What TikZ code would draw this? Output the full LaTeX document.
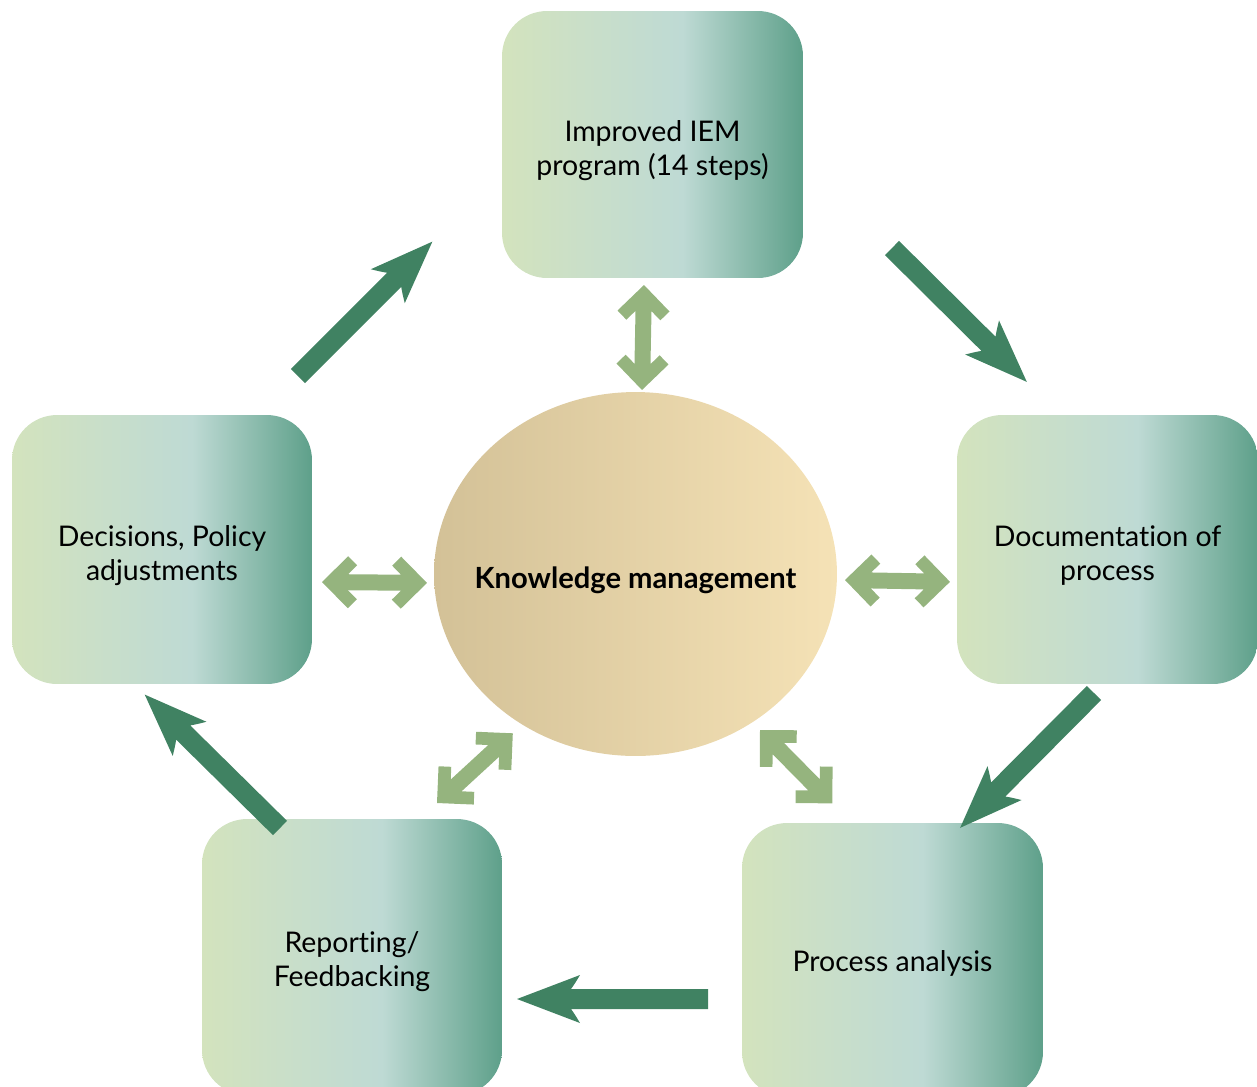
\documentclass[tikz,border=0pt]{standalone}
\usepackage{fontspec}
\setmainfont{Lato}[Ligatures=NoCommon]
\usetikzlibrary{shapes.geometric}

\definecolor{stageA}{RGB}{211,227,189}
\definecolor{stageAB}{RGB}{202,223,200}
\definecolor{stageB}{RGB}{190,218,212}
\definecolor{stageC}{RGB}{94,160,138}
\definecolor{hubA}{RGB}{211,193,151}
\definecolor{hubB}{RGB}{245,226,182}
\definecolor{flowgreen}{RGB}{64,130,98}
\definecolor{linkgreen}{RGB}{149,180,126}

% left-to-right fills (the middle 50bp are stretched over the shape)
\pgfdeclarehorizontalshading{stageshade}{100bp}{color(0bp)=(stageA); color(25bp)=(stageA); color(38bp)=(stageAB); color(55bp)=(stageB); color(75bp)=(stageC); color(100bp)=(stageC)}
\pgfdeclarehorizontalshading{hubshade}{100bp}{color(0bp)=(hubA); color(25bp)=(hubA); color(75bp)=(hubB); color(100bp)=(hubB)}

\tikzset{
  stage/.style={shading=stageshade, rounded corners=0.9cm, inner sep=0pt},
  stagetext/.style={align=center, inner sep=0pt, text=black,
    font=\fontsize{16.2}{19.4}\selectfont},
  hub/.style={ellipse, shading=hubshade, inner sep=0pt},
  hubtext/.style={inner sep=0pt, text=black,
    font=\bfseries\fontsize{16.6}{20}\selectfont},
  flow/.style={fill=flowgreen},
  link/.style={fill=linkgreen}
}

% broad cycle arrow: tail coordinate, direction angle, length (px units)
\newcommand{\flowarrow}[3]{%
  \fill[flow, shift={(#1)}, rotate=#2]
    (0,-10) -- ({#3-54},-10)
    .. controls ({#3-57},-14) and ({#3-60},-19) .. ({#3-63},-24)
    -- (#3,0) -- ({#3-63},24)
    .. controls ({#3-60},19) and ({#3-57},14) .. ({#3-54},10)
    -- (0,10) -- cycle;}

% two-headed link arrow with chevron heads: start coordinate, angle, length
\newcommand{\linkarrow}[3]{%
  \fill[link, shift={(#1)}, rotate=#2]
    (0,0) -- (26,-26) -- (35,-17) -- (26,-8) -- ({#3-26},-8)
    -- ({#3-35},-17) -- ({#3-26},-26) -- (#3,0) -- ({#3-26},26)
    -- ({#3-35},17) -- ({#3-26},8) -- (26,8) -- (35,17) -- (26,26) -- cycle;}

\begin{document}
\begin{tikzpicture}[x=0.02cm, y=-0.02cm]
  \useasboundingbox (0,0) rectangle (1257,1086);
  \clip (0,0) rectangle (1257,1086);

  % stages of the cycle
  \node[stage, minimum width=6.02cm, minimum height=5.34cm] (iem) at (652.5,144.5) {};
  \node[stage, minimum width=6.02cm, minimum height=5.38cm] (doc) at (1107.5,549.5) {};
  \node[stage, minimum width=6.02cm, minimum height=5.48cm] (ana) at (892.5,960) {};
  \node[stage, minimum width=6.00cm, minimum height=5.52cm] (rep) at (352,957) {};
  \node[stage, minimum width=6.00cm, minimum height=5.38cm] (dec) at (162,549.5) {};

  \node[stagetext] (iem-t) at ([yshift=-0.13cm]iem.center) {Improved IEM\\program (14 steps)};
  \node[stagetext] (doc-t) at ([yshift=-0.13cm]doc.center) {Documentation of\\process};
  \node[stagetext] (ana-t) at ([yshift=-0.06cm]ana.center) {Process analysis};
  \node[stagetext] (rep-t) at ([yshift=-0.09cm]rep.center) {Reporting/\\Feedbacking};
  \node[stagetext] (dec-t) at ([yshift=-0.13cm]dec.center) {Decisions, Policy\\adjustments};

  % central hub
  \node[hub, minimum width=8.06cm, minimum height=7.28cm] (km) at (635.5,574) {};
  \node[hubtext] (km-t) at ([yshift=-0.12cm]km.center) {Knowledge management};

  % ends of the cycle arrows
  \coordinate (f1) at (298,376);
  \coordinate (f2) at (892,248);
  \coordinate (f3) at (1094,693);
  \coordinate (f4) at (708,999);
  \coordinate (f5) at (280,828);

  % ends of the links to the hub
  \coordinate (l1) at (644,285);
  \coordinate (l2) at (845,580);
  \coordinate (l3) at (760,730);
  \coordinate (l4) at (437,803);
  \coordinate (l5) at (322,582);

  \linkarrow{l1}{-91.1}{105}
  \linkarrow{l2}{-1}{105}
  \linkarrow{l3}{-45.4}{103}
  \linkarrow{l4}{42.6}{103}
  \linkarrow{l5}{-0.5}{105}

  \flowarrow{f1}{45}{190}
  \flowarrow{f2}{-44.8}{190}
  \flowarrow{f3}{-134.8}{190}
  \flowarrow{f4}{180}{191}
  \flowarrow{f5}{135.4}{190}
\end{tikzpicture}
\end{document}
